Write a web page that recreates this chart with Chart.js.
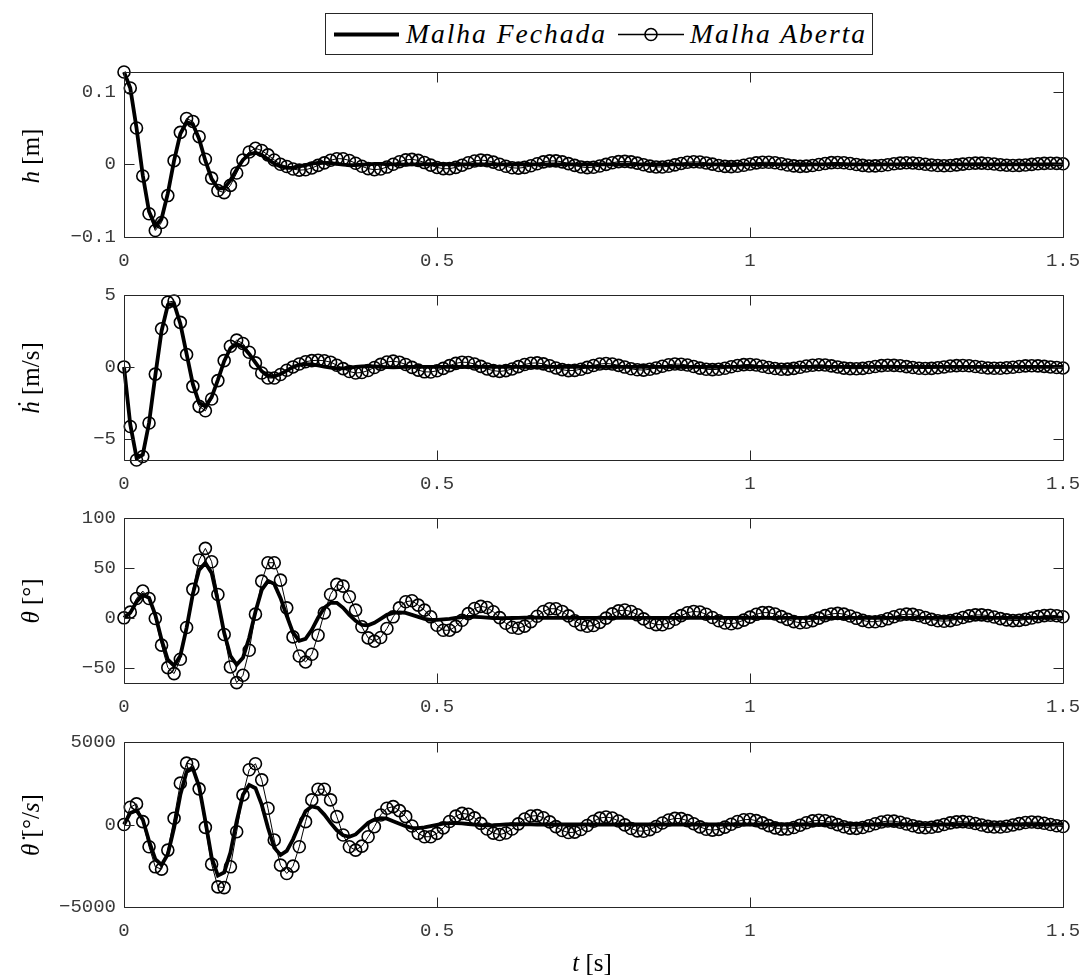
<!DOCTYPE html>
<html><head><meta charset="utf-8">
<script src="https://cdn.jsdelivr.net/npm/chart.js@4.4.0/dist/chart.umd.min.js"></script>
<style>
html,body{margin:0;padding:0;background:#fff;}
#fig{position:relative;width:1086px;height:976px;overflow:hidden;background:#fff;}
canvas.sub{position:absolute;left:0;}
.tex{position:absolute;font-family:"Liberation Serif","Times New Roman",serif;font-size:25px;color:#000;white-space:nowrap;line-height:1;}
.ytitle{transform:translate(-50%,-50%) rotate(-90deg);}
#legend{position:absolute;left:325px;top:13px;width:548px;height:42px;border:1px solid #262626;background:#fff;box-sizing:border-box;}
#legend svg{position:absolute;left:0;top:0;}
#legend .lt{position:absolute;top:50%;transform:translateY(-50%);font-family:"Liberation Serif",serif;font-style:italic;font-size:27.5px;letter-spacing:2px;white-space:nowrap;line-height:1;}
</style></head>
<body><div id="fig">
<canvas class="sub" id="c1" width="1086" height="222" style="top:60px"></canvas>
<canvas class="sub" id="c2" width="1086" height="222" style="top:283px"></canvas>
<canvas class="sub" id="c3" width="1086" height="222" style="top:506px"></canvas>
<canvas class="sub" id="c4" width="1086" height="222" style="top:730px"></canvas>

<div id="legend">
  <svg width="548" height="42">
    <line x1="8" y1="20.5" x2="73" y2="20.5" stroke="#000" stroke-width="4"/>
    <line x1="292" y1="20.5" x2="358" y2="20.5" stroke="#000" stroke-width="1.3"/>
    <circle cx="325" cy="20.5" r="6" fill="none" stroke="#000" stroke-width="1.6"/>
  </svg>
  <span class="lt" style="left:80px">Malha Fechada</span>
  <span class="lt" style="left:364px">Malha Aberta</span>
</div>

<div class="tex ytitle" style="left:30px;top:156px"><i>h</i> [m]</div>
<div class="tex ytitle" style="left:30px;top:378px"><i>ḣ</i> [m/s]</div>
<div class="tex ytitle" style="left:30px;top:601px"><i>θ</i> [°]</div>
<div class="tex ytitle" style="left:30px;top:825px"><i>θ̇</i> [°/<i>s</i>]</div>
<div class="tex" style="left:592px;top:962px;transform:translate(-50%,-50%)"><i>t</i> [s]</div>
</div>
<script>
const T = [0,0.01,0.02,0.03,0.04,0.05,0.06,0.07,0.08,0.09,0.1,0.11,0.12,0.13,0.14,0.15,0.16,0.17,0.18,0.19,0.2,0.21,0.22,0.23,0.24,0.25,0.26,0.27,0.28,0.29,0.3,0.31,0.32,0.33,0.34,0.35,0.36,0.37,0.38,0.39,0.4,0.41,0.42,0.43,0.44,0.45,0.46,0.47,0.48,0.49,0.5,0.51,0.52,0.53,0.54,0.55,0.56,0.57,0.58,0.59,0.6,0.61,0.62,0.63,0.64,0.65,0.66,0.67,0.68,0.69,0.7,0.71,0.72,0.73,0.74,0.75,0.76,0.77,0.78,0.79,0.8,0.81,0.82,0.83,0.84,0.85,0.86,0.87,0.88,0.89,0.9,0.91,0.92,0.93,0.94,0.95,0.96,0.97,0.98,0.99,1,1.01,1.02,1.03,1.04,1.05,1.06,1.07,1.08,1.09,1.1,1.11,1.12,1.13,1.14,1.15,1.16,1.17,1.18,1.19,1.2,1.21,1.22,1.23,1.24,1.25,1.26,1.27,1.28,1.29,1.3,1.31,1.32,1.33,1.34,1.35,1.36,1.37,1.38,1.39,1.4,1.41,1.42,1.43,1.44,1.45,1.46,1.47,1.48,1.49,1.5];

const hAberta = [0.127,0.105,0.050,-0.016,-0.068,-0.091,-0.080,-0.043,0.005,0.044,
0.063,0.059,0.038,0.007,-0.019,-0.036,-0.039,-0.029,-0.012,0.006,
0.017,0.022,0.019,0.013,0.006,0.000,-0.003,-0.0065,-0.008,-0.0075,
-0.005,-0.0015,0.002,0.0055,0.0077,0.0076,0.0053,0.0014,-0.0027,-0.0060,
-0.0074,-0.0065,-0.0038,0.0000,0.0036,0.0061,0.0068,0.0054,0.0024,-0.0011,
-0.0043,-0.0060,-0.0060,-0.0042,-0.0012,0.0021,0.0046,0.0058,0.0051,0.0030,
0.0001,-0.0027,-0.0048,-0.0053,-0.0042,-0.0020,0.0008,0.0033,0.0047,0.0047,
0.0033,0.0010,-0.0015,-0.0036,-0.0045,-0.0040,-0.0024,-0.0001,0.0021,0.0037,
0.0041,0.0034,0.0016,-0.0006,-0.0025,-0.0036,-0.0037,-0.0026,-0.0008,0.0012,
0.0028,0.0035,0.0032,0.0019,0.0002,-0.0016,-0.0029,-0.0032,-0.0026,-0.0013,
0.0004,0.0020,0.0028,0.0029,0.0021,0.0007,-0.0009,-0.0021,-0.0028,-0.0025,
-0.0016,-0.0002,0.0012,0.0023,0.0025,0.0021,0.0011,-0.0003,-0.0015,-0.0023,
-0.0022,-0.0017,-0.0006,0.0007,0.0017,0.0021,0.0019,0.0012,0.0001,-0.0009,
-0.0017,-0.0019,-0.0016,-0.0008,0.0002,0.0011,0.0017,0.0017,0.0012,0.0004,
-0.0005,-0.0012,-0.0016,-0.0015,-0.0010,-0.0001,0.0007,0.0013,0.0015,0.0013,0.0007];

const hFechada = [0.127,0.105,0.050,-0.015,-0.065,-0.085,-0.075,-0.040,0.005,0.042,
0.058,0.055,0.035,0.005,-0.020,-0.033,-0.033,-0.022,-0.007,0.006,
0.014,0.016,0.013,0.007,0.001,-0.003,-0.005,-0.005,-0.003,-0.001,
0.001,0.002,0.002,0.0015,0.0005,-0.0005,-0.001,-0.001,-0.0005,0,
0.0005,0.0005,0.0003,0,-0.0002,-0.0003,-0.0002,0,0.0001,0.0001,
0,0,0,0,0,0,0,0,0,0,0,0,0,0,0,0,0,0,0,0,0,0,0,0,0,0,0,0,0,0,
0,0,0,0,0,0,0,0,0,0,0,0,0,0,0,0,0,0,0,0,0,0,0,0,0,0,0,0,0,0,
0,0,0,0,0,0,0,0,0,0,0,0,0,0,0,0,0,0,0,0,0,0,0,0,0,0,0,0,0,0,0,0,0,0,0,0,0,0,0,0,0];

const hdAberta = [0,-4.14,-6.47,-6.23,-3.9,-0.5,2.65,4.5,4.58,3.1,
0.86,-1.35,-2.74,-3.05,-2.23,-0.95,0.44,1.44,1.86,1.63,
1.02,0.28,-0.42,-0.77,-0.77,-0.53,-0.23,0,0.20,0.36,
0.44,0.46,0.43,0.33,0.12,-0.12,-0.32,-0.42,-0.39,-0.25,
-0.04,0.18,0.34,0.40,0.33,0.17,-0.03,-0.22,-0.34,-0.35,
-0.27,-0.10,0.09,0.25,0.33,0.31,0.20,0.04,-0.14,-0.26,
-0.31,-0.26,-0.14,0.02,0.17,0.26,0.28,0.21,0.08,-0.07,
-0.19,-0.26,-0.24,-0.16,-0.03,0.10,0.20,0.24,0.20,0.11,
-0.01,-0.13,-0.20,-0.22,-0.16,-0.07,0.05,0.15,0.20,0.19,
0.13,0.03,-0.08,-0.16,-0.19,-0.16,-0.09,0.01,0.10,0.16,
0.17,0.13,0.05,-0.04,-0.11,-0.16,-0.15,-0.10,-0.02,0.06,
0.12,0.15,0.13,0.07,0.00,-0.08,-0.12,-0.13,-0.10,-0.04,
0.03,0.09,0.12,0.11,0.08,0.02,-0.04,-0.09,-0.11,-0.10,
-0.06,0.00,0.06,0.09,0.10,0.08,0.03,-0.02,-0.07,-0.09,
-0.09,-0.06,-0.02,0.03,0.07,0.08,0.07,0.04,0.00,-0.04,-0.07];

const hdFechada = [0,-4.0,-6.3,-6.1,-3.9,-0.6,2.5,4.3,4.4,3.0,
0.9,-1.2,-2.5,-2.75,-2.1,-0.9,0.4,1.3,1.6,1.4,
0.9,0.3,-0.3,-0.6,-0.65,-0.5,-0.25,0,0.15,0.2,
0.18,0.1,0.02,-0.05,-0.1,-0.1,-0.06,0,0.04,0.05,
0.04,0.01,-0.02,-0.03,-0.02,0,0.01,0.01,0,0,
0,0,0,0,0,0,0,0,0,0,0,0,0,0,0,0,0,0,0,0,0,0,0,0,0,0,0,0,0,0,
0,0,0,0,0,0,0,0,0,0,0,0,0,0,0,0,0,0,0,0,0,0,0,0,0,0,0,0,0,0,
0,0,0,0,0,0,0,0,0,0,0,0,0,0,0,0,0,0,0,0,0,0,0,0,0,0,0,0,0,0,0,0,0,0,0,0,0,0,0,0,0];

const thAberta = [0,5.7,19.4,26.8,19.4,-0.7,-27.4,-49.9,-55.9,-41.5,
-9.7,28.5,57.9,69.6,56.2,23.4,-16.7,-49.2,-64.9,-57.6,
-32.5,3.7,36.8,55.2,55.2,37.8,10,-19.1,-38.2,-44.2,
-36.5,-17.4,5,23.4,33.5,31.8,21.1,7.7,-9,-20.1,
-23.4,-19.7,-10.7,1,10,16.1,17.1,12.7,7.7,1,
-7.4,-12.5,-12.4,-8.6,-2.5,4.2,9.3,11.5,10.3,6.1,
0.2,-5.5,-9.4,-10.4,-8.3,-3.8,1.6,6.3,9.1,9.1,
6.4,1.9,-3.0,-6.8,-8.5,-7.7,-4.6,-0.3,4.0,7.0,
7.8,6.3,3.0,-1.1,-4.7,-6.8,-6.9,-4.9,-1.5,2.2,
5.1,6.4,5.8,3.6,0.3,-3.0,-5.2,-5.9,-4.8,-2.3,
0.7,3.5,5.2,5.2,3.8,1.2,-1.6,-3.8,-4.9,-4.5,
-2.8,-0.3,2.2,3.9,4.5,3.7,1.8,-0.5,-2.6,-3.9,
-3.9,-2.9,-1.0,1.1,2.8,3.7,3.4,2.1,0.3,-1.6,
-2.9,-3.4,-2.8,-1.4,0.3,1.9,2.9,2.9,2.2,0.8,
-0.8,-2.1,-2.8,-2.6,-1.6,-0.2,1.2,2.2,2.6,2.1,1.1];

const thFechada = [0,5,16,23,20,3,-22,-42,-48,-38,
-10,24,48,55,45,17,-15,-38,-47,-40,
-20,6,28,37,34,20,2,-15,-23,-21,
-12,0,10,15,15,10,3,-3,-7,-7.5,
-5,-1,3,5,5.5,5,3,1,-1,-2,
-2,-1.5,-1,0,0.8,1,1,0.6,0.2,-0.2,
-0.4,-0.4,-0.2,0,0.2,0.2,0.1,0,0,0,
0,0,0,0,0,0,0,0,0,0,0,0,0,0,0,0,0,0,0,0,0,0,0,0,0,0,0,0,0,0,
0,0,0,0,0,0,0,0,0,0,0,0,0,0,0,0,0,0,0,0,0,0,0,0,0,0,0,0,0,0,
0,0,0,0,0,0,0,0,0,0,0,0,0,0,0,0,0,0,0,0,0];

const thdAberta = [0,1045,1247,172,-1349,-2565,-2707,-1551,375,2505,
3722,3620,2160,-172,-2403,-3782,-3823,-2565,-436,1795,
3316,3681,2707,983,-943,-2464,-2970,-2525,-1349,172,
1490,2140,2140,1490,477,-639,-1349,-1551,-1308,-740,
-132,578,983,1085,842,477,-91,-537,-740,-740,
-537,-206,184,509,673,624,403,71,-271,-521,
-609,-515,-273,40,330,512,536,406,157,-129,
-367,-488,-465,-302,-59,196,386,454,390,210,
-25,-245,-386,-408,-311,-124,92,276,369,354,
233,49,-144,-288,-343,-295,-162,14,180,289,
307,236,98,-66,-206,-280,-269,-179,-41,107,
218,259,227,126,-7,-134,-219,-233,-182,-76,
46,152,209,202,137,33,-77,-161,-193,-169,
-96,3,99,160,174,136,59,-33,-111,-155,
-154,-105,-27,56,120,149,131,75,-1,-74,-125];

const thdFechada = [0,700,850,300,-1000,-2100,-2450,-1800,-200,1800,
3200,3400,2300,200,-2000,-3100,-2900,-1700,200,1800,
2400,2200,1200,-200,-1400,-1850,-1600,-900,0,800,
1100,1000,600,100,-350,-650,-750,-600,-250,100,
300,380,350,200,50,-100,-200,-220,-180,-100,
-20,50,80,90,70,30,-10,-40,-50,-40,
-20,0,15,20,15,5,0,0,0,0,
0,0,0,0,0,0,0,0,0,0,0,0,0,0,0,0,0,0,0,0,0,0,0,0,0,0,0,0,0,0,
0,0,0,0,0,0,0,0,0,0,0,0,0,0,0,0,0,0,0,0,0,0,0,0,0,0,0,0,0,0,
0,0,0,0,0,0,0,0,0,0,0,0,0,0,0,0,0,0,0,0,0];

const seriesNames = ['Malha Fechada', 'Malha Aberta'];
const xTickStep = 0.5;

const AXIS_COLOR = '#262626';
const TICK_COLOR = '#3a3a3a';
const TICK_FONT = {family: '"Liberation Mono", "DejaVu Sans Mono", monospace', size: 19};

const boxTicks = {
  id: 'boxTicks',
  afterDatasetsDraw(chart) {
    const {ctx, chartArea: a} = chart;
    const xs = chart.scales.x, ys = chart.scales.y;
    const L = 10;
    ctx.save();
    ctx.strokeStyle = AXIS_COLOR;
    ctx.lineWidth = 1;
    ctx.beginPath();
    const l = Math.round(a.left) + 0.5, r = Math.round(a.right) + 0.5;
    const t = Math.round(a.top) + 0.5, b = Math.round(a.bottom) + 0.5;
    ctx.rect(l, t, r - l, b - t);
    xs.ticks.forEach(tk => {
      const p = Math.round(xs.getPixelForValue(tk.value)) + 0.5;
      ctx.moveTo(p, b); ctx.lineTo(p, b - L);
      ctx.moveTo(p, t); ctx.lineTo(p, t + L);
    });
    ys.ticks.forEach(tk => {
      const p = Math.round(ys.getPixelForValue(tk.value)) + 0.5;
      ctx.moveTo(l, p); ctx.lineTo(l + L, p);
      ctx.moveTo(r, p); ctx.lineTo(r - L, p);
    });
    ctx.stroke();
    ctx.restore();
  }
};

function fmt(v) {
  const s = String(Math.round(v * 1e6) / 1e6);
  return s.replace('-', '\u2212');
}

function makeChart(id, fech, aber, yMin, yMax, yStep) {
  const ctx = document.getElementById(id).getContext('2d');
  return new Chart(ctx, {
    type: 'line',
    data: {
      datasets: [
        {label: seriesNames[0], data: T.map((x, i) => ({x, y: fech[i]})),
         borderColor: '#000', borderWidth: 3.8, pointRadius: 0, fill: false, clip: false, tension: 0},
        {label: seriesNames[1], data: T.map((x, i) => ({x, y: aber[i]})),
         borderColor: '#000', borderWidth: 1, pointRadius: 6, pointBorderWidth: 1.6,
         pointBorderColor: '#000', pointBackgroundColor: 'rgba(0,0,0,0)', pointStyle: 'circle',
         fill: false, clip: false, tension: 0}
      ]
    },
    options: {
      responsive: false, animation: false, devicePixelRatio: 1, events: [],
      layout: {padding: {top: 12, right: 23, bottom: 0, left: 0}},
      plugins: {legend: {display: false}, tooltip: {enabled: false}},
      scales: {
        x: {type: 'linear', min: 0, max: 1.5,
            grid: {display: false, drawTicks: false, tickLength: 0}, border: {display: false},
            ticks: {stepSize: xTickStep, includeBounds: false, maxRotation: 0, autoSkip: false,
                    padding: 13, color: TICK_COLOR, font: TICK_FONT, callback: fmt},
            afterFit(s) { s.height = 45; s.paddingLeft = 0; s.paddingRight = 0; }},
        y: {type: 'linear', min: yMin, max: yMax,
            grid: {display: false, drawTicks: false, tickLength: 0}, border: {display: false},
            ticks: {stepSize: yStep, includeBounds: false, autoSkip: false,
                    padding: 8, color: TICK_COLOR, font: TICK_FONT, callback: fmt},
            afterFit(s) { s.width = 124; s.paddingTop = 0; s.paddingBottom = 0; }}
      }
    },
    plugins: [boxTicks]
  });
}

makeChart('c1', hFechada, hAberta, -0.1, 0.127, 0.1);
makeChart('c2', hdFechada, hdAberta, -6.47, 5, 5);
makeChart('c3', thFechada, thAberta, -65.3, 100, 50);
makeChart('c4', thdFechada, thdAberta, -5000, 5000, 5000);
</script>
</body></html>
